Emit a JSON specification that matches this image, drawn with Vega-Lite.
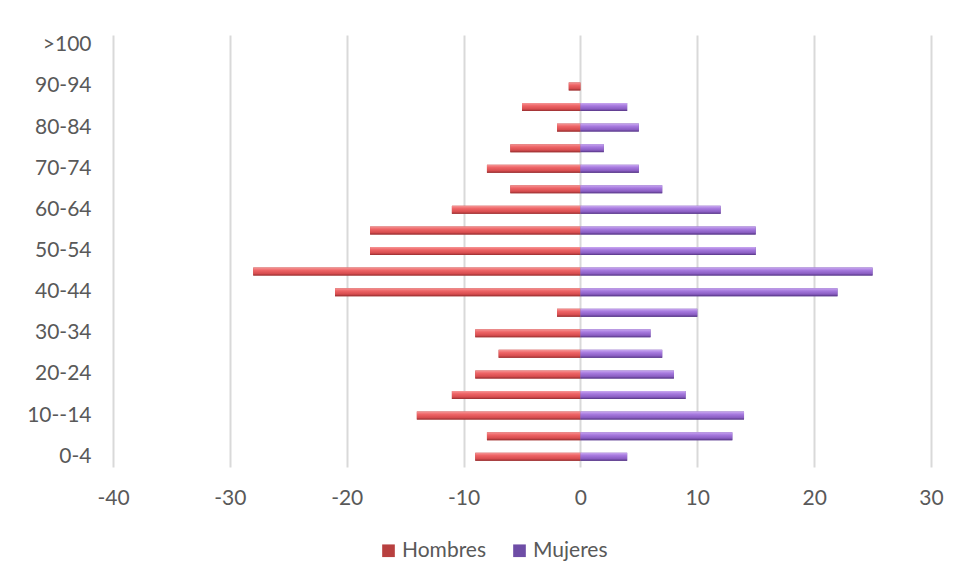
{
  "$schema": "https://vega.github.io/schema/vega-lite/v6.json",
  "width": 818,
  "height": 432,
  "autosize": {"type": "none"},
  "padding": {"left": 113, "top": 35, "right": 29, "bottom": 121},
  "background": "white",
  "config": {"view": {"stroke": null}, "font": "Lato"},
  "data": {
    "values": [
      {"age": "0-4", "sex": "Hombres", "value": -9},
      {"age": "0-4", "sex": "Mujeres", "value": 4},
      {"age": "5-9", "sex": "Hombres", "value": -8},
      {"age": "5-9", "sex": "Mujeres", "value": 13},
      {"age": "10--14", "sex": "Hombres", "value": -14},
      {"age": "10--14", "sex": "Mujeres", "value": 14},
      {"age": "15-19", "sex": "Hombres", "value": -11},
      {"age": "15-19", "sex": "Mujeres", "value": 9},
      {"age": "20-24", "sex": "Hombres", "value": -9},
      {"age": "20-24", "sex": "Mujeres", "value": 8},
      {"age": "25-29", "sex": "Hombres", "value": -7},
      {"age": "25-29", "sex": "Mujeres", "value": 7},
      {"age": "30-34", "sex": "Hombres", "value": -9},
      {"age": "30-34", "sex": "Mujeres", "value": 6},
      {"age": "35-39", "sex": "Hombres", "value": -2},
      {"age": "35-39", "sex": "Mujeres", "value": 10},
      {"age": "40-44", "sex": "Hombres", "value": -21},
      {"age": "40-44", "sex": "Mujeres", "value": 22},
      {"age": "45-49", "sex": "Hombres", "value": -28},
      {"age": "45-49", "sex": "Mujeres", "value": 25},
      {"age": "50-54", "sex": "Hombres", "value": -18},
      {"age": "50-54", "sex": "Mujeres", "value": 15},
      {"age": "55-59", "sex": "Hombres", "value": -18},
      {"age": "55-59", "sex": "Mujeres", "value": 15},
      {"age": "60-64", "sex": "Hombres", "value": -11},
      {"age": "60-64", "sex": "Mujeres", "value": 12},
      {"age": "65-69", "sex": "Hombres", "value": -6},
      {"age": "65-69", "sex": "Mujeres", "value": 7},
      {"age": "70-74", "sex": "Hombres", "value": -8},
      {"age": "70-74", "sex": "Mujeres", "value": 5},
      {"age": "75-79", "sex": "Hombres", "value": -6},
      {"age": "75-79", "sex": "Mujeres", "value": 2},
      {"age": "80-84", "sex": "Hombres", "value": -2},
      {"age": "80-84", "sex": "Mujeres", "value": 5},
      {"age": "85-89", "sex": "Hombres", "value": -5},
      {"age": "85-89", "sex": "Mujeres", "value": 4},
      {"age": "90-94", "sex": "Hombres", "value": -1},
      {"age": "90-94", "sex": "Mujeres", "value": 0},
      {"age": "95-99", "sex": "Hombres", "value": 0},
      {"age": "95-99", "sex": "Mujeres", "value": 0},
      {"age": ">100", "sex": "Hombres", "value": 0},
      {"age": ">100", "sex": "Mujeres", "value": 0}
    ]
  },
  "encoding": {
    "y": {
      "field": "age",
      "type": "nominal",
      "sort": [">100", "95-99", "90-94", "85-89", "80-84", "75-79", "70-74", "65-69", "60-64", "55-59", "50-54", "45-49", "40-44", "35-39", "30-34", "25-29", "20-24", "15-19", "10--14", "5-9", "0-4"],
      "title": null,
      "axis": {
        "values": [">100", "90-94", "80-84", "70-74", "60-64", "50-54", "40-44", "30-34", "20-24", "10--14", "0-4"],
        "domain": false,
        "ticks": false,
        "grid": false,
        "labelPadding": 22,
        "labelFontSize": 21,
        "labelColor": "#595959"
      }
    },
    "x": {
      "field": "value",
      "type": "quantitative",
      "stack": null,
      "title": null,
      "scale": {"domain": [-40, 30], "nice": false},
      "axis": {
        "values": [-40, -30, -20, -10, 0, 10, 20, 30],
        "labelExpr": "'' + datum.value",
        "labelFlush": false,
        "grid": true,
        "gridColor": "#d9d9d9",
        "gridWidth": 2,
        "domain": false,
        "ticks": false,
        "labelPadding": 20,
        "labelFontSize": 21,
        "labelColor": "#595959"
      }
    }
  },
  "layer": [
    {
      "mark": {"type": "bar", "size": 8},
      "encoding": {
        "color": {
          "field": "sex",
          "type": "nominal",
          "scale": {"domain": ["Hombres", "Mujeres"], "range": ["#B8403F", "#6E4DA6"]},
          "legend": {
            "title": null,
            "orient": "none",
            "direction": "horizontal",
            "legendX": 265,
            "legendY": 505,
            "symbolType": "square",
            "symbolSize": 160,
            "symbolStrokeWidth": 0,
            "labelFontSize": 21,
            "labelColor": "#595959",
            "columnPadding": 22,
            "labelOffset": 3
          }
        }
      }
    },
    {
      "transform": [{"filter": "datum.sex === 'Hombres'"}],
      "mark": {
        "type": "bar",
        "size": 8,
        "color": {"gradient": "linear", "x1": 0, "y1": 0, "x2": 0, "y2": 1, "stops": [{"offset": 0, "color": "#F59696"}, {"offset": 0.35, "color": "#EE6466"}, {"offset": 0.75, "color": "#D74D4F"}, {"offset": 1, "color": "#962E30"}]}
      }
    },
    {
      "transform": [{"filter": "datum.sex === 'Mujeres'"}],
      "mark": {
        "type": "bar",
        "size": 8,
        "color": {"gradient": "linear", "x1": 0, "y1": 0, "x2": 0, "y2": 1, "stops": [{"offset": 0, "color": "#C9A8F0"}, {"offset": 0.35, "color": "#A679DE"}, {"offset": 0.75, "color": "#8A5EC2"}, {"offset": 1, "color": "#553584"}]}
      }
    },
    {
      "data": {"values": [{}]},
      "mark": {"type": "rule", "color": "#a6a6a6", "strokeWidth": 2},
      "encoding": {"x": {"datum": 0}, "y": null}
    }
  ]
}
